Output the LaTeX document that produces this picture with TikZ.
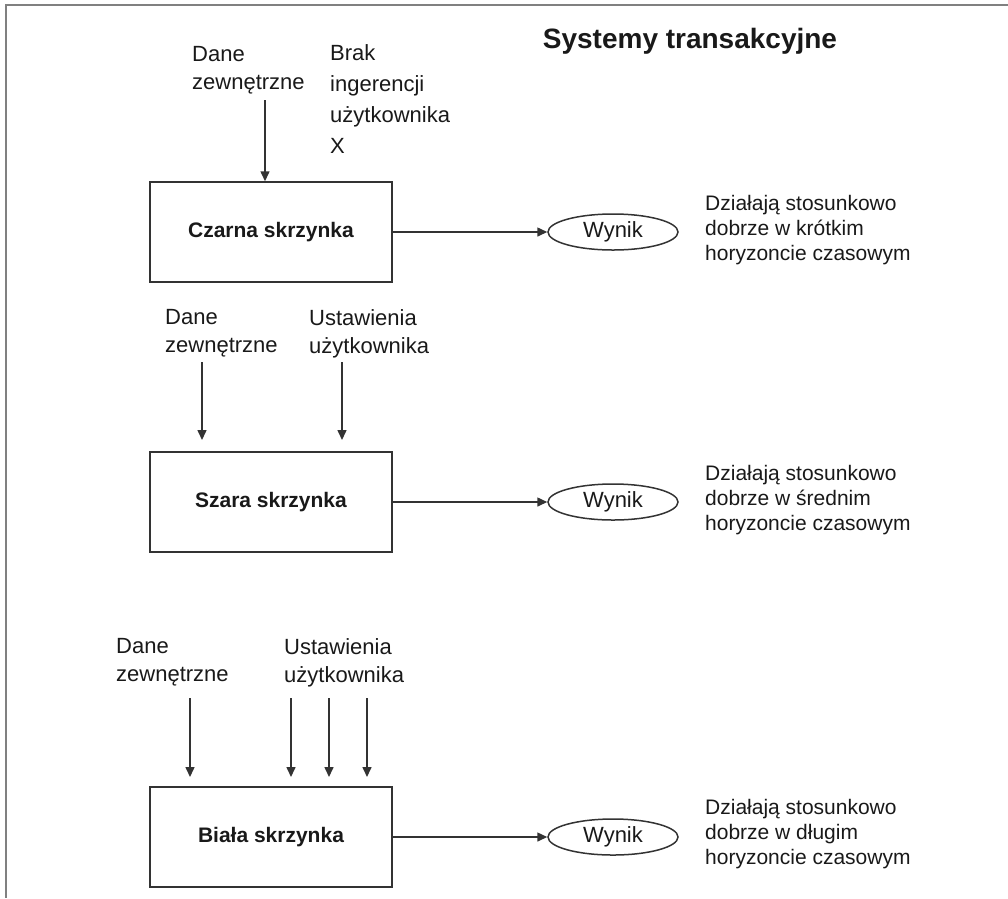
\documentclass[tikz,border=0pt]{standalone}
\usepackage{fontspec}
\setmainfont{Liberation Sans}
\usetikzlibrary{arrows.meta,shapes.geometric}

\tikzset{
  frameline/.style={draw=black!50, line width=2pt},
  conn/.style={draw=black!80, line width=1.5pt},
  arr/.style={conn, -{Triangle[length=10pt,width=9pt]}},
  boxnode/.style={draw=black!80, line width=1.5pt, rectangle,
    minimum width=242pt, minimum height=100pt, inner sep=0pt,
    font=\fontsize{21}{25}\selectfont\bfseries, text=black!90},
  resnode/.style={draw=black!80, line width=1.5pt, ellipse,
    minimum width=130pt, minimum height=36pt, inner sep=0pt,
    font=\fontsize{22}{26}\selectfont, text=black!90},
  inlabel/.style={anchor=north west, inner sep=0pt, align=left,
    font=\fontsize{22}{28}\selectfont, text=black!90},
  note/.style={anchor=north west, inner sep=0pt, align=left,
    font=\fontsize{21}{25}\selectfont, text=black!90},
}

\begin{document}
\begin{tikzpicture}[x=1pt, y=-1pt]
\useasboundingbox (0,0) rectangle (1008,898);

% open frame: top and left edges
\draw[frameline] (1008,5) -- (6,5) -- (6,898);

% title
\node[anchor=base, inner sep=0pt, font=\fontsize{28}{32}\selectfont\bfseries, text=black!90]
  (title) at (690,48) {Systemy transakcyjne};

% ---- black box ----
\node[boxnode] (b1) at (271,232) {Czarna skrzynka};
\node[resnode] (w1) at (613,232) {Wynik};
\draw[arr] (b1.east) -- (w1.west);
\node[note] (t1) at (705,195) {Działają stosunkowo\\dobrze w krótkim\\horyzoncie czasowym};

\node[inlabel] (d1) at (192,46) {Dane\\zewnętrzne};
\node[inlabel, font=\fontsize{22}{31}\selectfont] (x1) at (330,44) {Brak\\ingerencji\\użytkownika\\X};
\coordinate (d1s) at (265,100);
\draw[arr] (d1s) -- (d1s |- b1.north);

% ---- grey box ----
\node[boxnode] (b2) at (271,502) {Szara skrzynka};
\node[resnode] (w2) at (613,502) {Wynik};
\draw[arr] (b2.east) -- (w2.west);
\node[note] (t2) at (705,465) {Działają stosunkowo\\dobrze w średnim\\horyzoncie czasowym};

\node[inlabel] (d2) at (165,309) {Dane\\zewnętrzne};
\node[inlabel] (u2) at (309,309) {Ustawienia\\użytkownika};
\coordinate (d2s) at (202,362);
\coordinate (d2e) at (202,440);
\coordinate (u2s) at (342,362);
\coordinate (u2e) at (342,440);
\draw[arr] (d2s) -- (d2e);
\draw[arr] (u2s) -- (u2e);

% ---- white box ----
\node[boxnode] (b3) at (271,837) {Biała skrzynka};
\node[resnode] (w3) at (613,837) {Wynik};
\draw[arr] (b3.east) -- (w3.west);
\node[note] (t3) at (705,799) {Działają stosunkowo\\dobrze w długim\\horyzoncie czasowym};

\node[inlabel] (d3) at (116,638) {Dane\\zewnętrzne};
\node[inlabel] (u3) at (284,638) {Ustawienia\\użytkownika};
\coordinate (d3s) at (190,698);
\coordinate (d3e) at (190,777);
\coordinate (u3as) at (291,698);
\coordinate (u3ae) at (291,777);
\coordinate (u3bs) at (329,698);
\coordinate (u3be) at (329,777);
\coordinate (u3cs) at (367,698);
\coordinate (u3ce) at (367,777);
\draw[arr] (d3s) -- (d3e);
\draw[arr] (u3as) -- (u3ae);
\draw[arr] (u3bs) -- (u3be);
\draw[arr] (u3cs) -- (u3ce);
\end{tikzpicture}
\end{document}
